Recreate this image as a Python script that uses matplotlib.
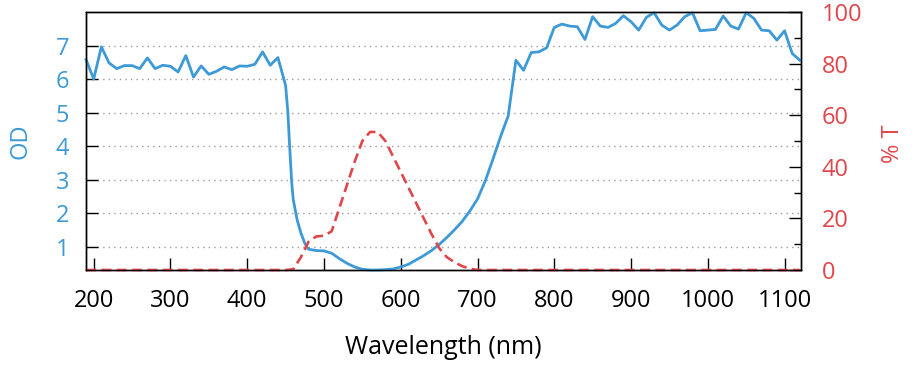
import matplotlib
matplotlib.use("Agg")
import matplotlib.pyplot as plt
from matplotlib.ticker import MultipleLocator

plt.rcParams['font.family'] = ['Open Sans', 'DejaVu Sans']

# optical density of the filter (left axis)
od_nm = [190, 200, 210, 220, 230, 240, 250, 260, 270, 280, 290, 300, 310, 320,
         330, 340, 350, 360, 370, 380, 390, 400, 410, 420, 430, 440, 450,
         453, 455, 458, 460, 465, 470, 475, 478, 480, 490, 500, 510, 520, 530,
         540, 550, 560, 570, 580, 590, 600, 610, 620, 630, 640, 650, 660, 670,
         680, 690, 700, 710, 720, 730, 740, 750, 760, 770, 780, 790, 800, 810,
         820, 830, 840, 850, 860, 870, 880, 890, 900, 910, 920, 930, 940, 950,
         960, 970, 980, 990, 1000, 1010, 1020, 1030, 1040, 1050, 1060, 1070,
         1080, 1090, 1100, 1110, 1120]
od = [6.58, 6.00, 6.96, 6.48, 6.31, 6.40, 6.40, 6.31, 6.63, 6.31, 6.41, 6.38,
      6.21, 6.70, 6.06, 6.39, 6.14, 6.23, 6.36, 6.28, 6.39, 6.38, 6.44, 6.81,
      6.41, 6.64, 5.81,
      5.0, 4.1, 2.9, 2.4, 1.8, 1.4, 1.1, 0.98, 0.92, 0.88, 0.87, 0.80, 0.64,
      0.50, 0.39, 0.32, 0.30, 0.30, 0.31, 0.33, 0.39, 0.47, 0.60, 0.73, 0.88,
      1.06, 1.27, 1.50, 1.75, 2.06, 2.42, 2.95, 3.60, 4.28, 4.90, 6.56, 6.26,
      6.79, 6.81, 6.93, 7.54, 7.64, 7.58, 7.56, 7.18, 7.86, 7.58, 7.54, 7.66,
      7.89, 7.71, 7.46, 7.84, 7.98, 7.61, 7.46, 7.61, 7.86, 7.98, 7.44, 7.46,
      7.48, 7.88, 7.58, 7.49, 7.98, 7.81, 7.46, 7.44, 7.16, 7.44, 6.76, 6.56]

# transmission in percent (right axis)
t_nm = [190, 450, 460, 470, 480, 490, 500, 510, 520, 530, 540, 550, 560, 570,
        580, 590, 600, 610, 620, 630, 640, 650, 660, 670, 680, 690, 700, 1120]
trans = [0, 0, 0.3, 5, 11, 13, 13.3, 15, 24, 33, 42, 50, 53.5, 53.5,
         50, 44, 38, 32, 26, 20, 14, 8.5, 5, 3, 1.5, 0.5, 0, 0]

blue = '#3d9ad6'
red = '#e0474c'

fig = plt.figure(figsize=(9.16, 3.68), dpi=100)
ax = fig.add_axes([0.0939, 0.2663, 0.7802, 0.7011])
ax2 = ax.twinx()

ax.plot(od_nm, od, color=blue, lw=2, clip_on=False, zorder=3)
ax2.plot(t_nm, trans, color=red, lw=1.9, dashes=(3.8, 2), clip_on=False)

ax.set_xlim(190, 1121)
ax.set_ylim(0.3, 8.0)
ax2.set_ylim(0, 100)

ax.set_xticks(range(200, 1101, 100))
ax.set_yticks(range(1, 8))
ax2.yaxis.set_major_locator(MultipleLocator(20))
ax2.yaxis.set_minor_locator(MultipleLocator(10))

ax.yaxis.grid(True, linestyle=(0, (1, 3)), color='#9a9a9a', lw=1)

ax.tick_params(axis='x', direction='in', length=8.6, width=1, labelsize=17,
               pad=14, colors='black', top=False)
ax.tick_params(axis='y', direction='in', length=8.6, width=1, labelsize=17,
               pad=12, labelcolor=blue, right=False)
ax2.tick_params(axis='y', which='major', direction='in', length=8.6, width=1,
                labelsize=17, pad=15, labelcolor=red)
ax2.tick_params(axis='y', which='minor', direction='in', length=5, width=1)

for a in (ax, ax2):
    for s in a.spines.values():
        s.set_color('black')
        s.set_linewidth(1)

ax.set_ylabel('OD', color=blue, fontsize=17, va='center')
ax.yaxis.set_label_coords(-0.091, 0.5)
ax2.set_ylabel('% T', color=red, fontsize=17, va='center')
ax2.yaxis.set_label_coords(1.129, 0.49)
ax.set_xlabel('Wavelength (nm)', fontsize=18, va='center')
ax.xaxis.set_label_coords(0.5, -0.3)

fig.savefig('out.png', dpi=100)
